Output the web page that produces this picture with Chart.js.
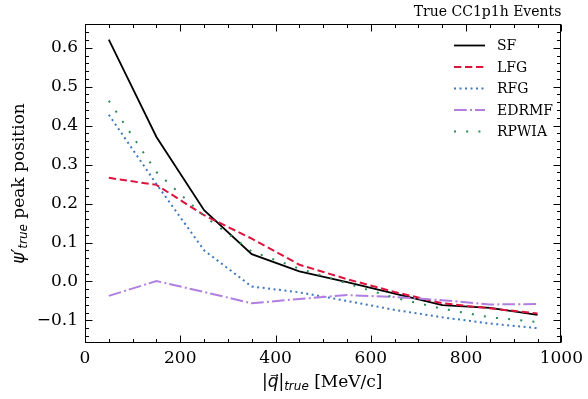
<!DOCTYPE html>
<html>
<head>
<meta charset="utf-8">
<script src="https://cdn.jsdelivr.net/npm/chart.js@4.4.1/dist/chart.umd.min.js"></script>
<style>
  html, body { margin: 0; padding: 0; background: #fff; }
  #wrap { width: 588px; height: 399px; position: relative; }
</style>
</head>
<body>
<div id="wrap"><canvas id="c"></canvas></div>
<script>
// ---- data ----
const qValues = [50, 150, 250, 350, 450, 550, 650, 750, 850, 950];
const seriesNames = ['SF', 'LFG', 'RFG', 'EDRMF', 'RPWIA'];
const sfValues    = [0.621, 0.371, 0.183, 0.070, 0.026, -0.002, -0.031, -0.061, -0.068, -0.086];
const lfgValues   = [0.266, 0.248, 0.170, 0.110, 0.043, 0.006, -0.027, -0.056, -0.069, -0.082];
const rfgValues   = [0.428, 0.250, 0.080, -0.013, -0.028, -0.050, -0.073, -0.092, -0.108, -0.120];
const edrmfValues = [-0.037, 0.001, -0.027, -0.056, -0.045, -0.035, -0.040, -0.048, -0.059, -0.058];
const rpwiaValues = [0.464, 0.281, 0.168, 0.077, 0.033, -0.005, -0.042, -0.070, -0.092, -0.104];
const xTickValues = [0, 200, 400, 600, 800, 1000];
const yTickValues = [-0.1, 0.0, 0.1, 0.2, 0.3, 0.4, 0.5, 0.6];
const titleText = 'True CC1p1h Events';

// ---- styles ----
const styles = [
  { color: '#000000', dash: [],                width: 1.8 },
  { color: '#DC143C', dash: [7.3, 3.7],        width: 2 },
  { color: '#3F79C0', dash: [2, 3.5],          width: 2 },
  { color: '#B07FE0', dash: [12.7, 3.3, 2, 3], width: 2 },
  { color: '#2E8B57', dash: [2, 10.2],         width: 2 }
];
const allValues = [sfValues, lfgValues, rfgValues, edrmfValues, rpwiaValues];

const datasets = allValues.map((vals, i) => ({
  label: seriesNames[i],
  data: qValues.map((x, j) => ({ x: x, y: vals[j] })),
  borderColor: styles[i].color,
  backgroundColor: styles[i].color,
  borderDash: styles[i].dash,
  borderWidth: styles[i].width,
  borderCapStyle: 'butt',
  pointRadius: 0,
  tension: 0,
  fill: false,
  order: 5 - i
}));

const SERIF = '"DejaVu Serif", serif';
const SANS = '"DejaVu Sans", sans-serif';

function fmtY(v) {
  const s = v.toFixed(1);
  return s.startsWith('-') ? '\u2212' + s.slice(1) : s;
}

// draw a sequence of text runs: [{t, font, dy}]
function drawRuns(ctx, runs, cx, cy) {
  let total = 0;
  runs.forEach(r => { ctx.font = r.font; r.w = ctx.measureText(r.t).width; total += r.w; });
  let x = cx - total / 2;
  ctx.textBaseline = 'middle';
  ctx.textAlign = 'left';
  runs.forEach(r => { ctx.font = r.font; ctx.fillText(r.t, x, cy + (r.dy || 0)); x += r.w; });
}

const decor = {
  id: 'decor',
  afterDraw(chart) {
    const ctx = chart.ctx;
    const a = chart.chartArea;
    const xs = chart.scales.x, ys = chart.scales.y;
    ctx.save();
    ctx.strokeStyle = '#000';
    ctx.fillStyle = '#000';
    // frame
    ctx.lineWidth = 1;
    ctx.strokeRect(Math.round(a.left) + 0.5, Math.round(a.top) + 0.5,
                   Math.round(a.right - a.left) - 1, Math.round(a.bottom - a.top) - 1);
    // ticks inward
    const L = Math.round(a.left) + 0.5, R = Math.round(a.right) - 0.5;
    const T = Math.round(a.top) + 0.5, B = Math.round(a.bottom) - 0.5;
    ctx.beginPath();
    for (let v = 0; v <= 1000; v += 50) {
      const px = Math.round(xs.getPixelForValue(v)) + 0.5;
      const len = (v % 200 === 0) ? 7 : 3.5;
      ctx.moveTo(px, B); ctx.lineTo(px, B - len);
      ctx.moveTo(px, T); ctx.lineTo(px, T + len);
    }
    for (let k = -7; k <= 33; k++) {
      const v = k * 0.02;
      if (v < ys.min || v > ys.max) continue;
      const py = Math.round(ys.getPixelForValue(v)) + 0.5;
      const len = (k % 5 === 0) ? 7 : 3.5;
      ctx.moveTo(L, py); ctx.lineTo(L + len, py);
      ctx.moveTo(R, py); ctx.lineTo(R - len, py);
    }
    ctx.stroke();

    // title
    ctx.font = '14px ' + SERIF;
    ctx.textAlign = 'right';
    ctx.textBaseline = 'alphabetic';
    ctx.fillText(titleText, a.right, 16);

    // legend
    const lx0 = 454, lx1 = 485, tx = 497;
    const rowY = [45, 66.5, 88, 109.5, 131];
    chart.data.datasets.forEach((ds, i) => {
      const y = rowY[i] + 0.5;
      ctx.save();
      ctx.strokeStyle = ds.borderColor;
      ctx.lineWidth = ds.borderWidth;
      ctx.setLineDash(ds.borderDash);
      ctx.beginPath();
      ctx.moveTo(lx0, y); ctx.lineTo(lx1, y);
      ctx.stroke();
      ctx.restore();
      ctx.font = '14px ' + SERIF;
      ctx.textAlign = 'left';
      ctx.textBaseline = 'middle';
      ctx.fillText(ds.label, tx, y + 1);
    });

    // x axis title
    drawRuns(ctx, [
      { t: '|', font: '17px ' + SANS },
      { t: 'q\u20D7', font: 'italic 17px ' + SANS },
      { t: '|', font: '17px ' + SANS },
      { t: 'true', font: 'italic 12px ' + SANS, dy: 4 },
      { t: ' [MeV/c]', font: '17px ' + SERIF }
    ], (a.left + a.right) / 2 - 1, 383);

    // y axis title
    ctx.save();
    ctx.translate(20, (a.top + a.bottom) / 2);
    ctx.rotate(-Math.PI / 2);
    drawRuns(ctx, [
      { t: '\u03C8\u2032', font: 'italic 17px ' + SANS },
      { t: 'true', font: 'italic 12px ' + SANS, dy: 4 },
      { t: ' peak position', font: '17px ' + SERIF }
    ], 0, 0);
    ctx.restore();
    ctx.restore();
  }
};

new Chart(document.getElementById('c'), {
  type: 'line',
  data: { datasets },
  options: {
    responsive: true,
    maintainAspectRatio: false,
    animation: false,
    layout: { padding: { left: 0, top: 24, right: 23, bottom: 0 } },
    plugins: { legend: { display: false }, tooltip: { enabled: false }, title: { display: false } },
    scales: {
      x: {
        type: 'linear',
        min: 0, max: 1000,
        grid: { display: false, drawTicks: false },
        border: { display: false },
        afterBuildTicks: s => { s.ticks = xTickValues.map(v => ({ value: v })); },
        afterFit: s => { s.height = 56; },
        ticks: {
          color: '#000', padding: 5, maxRotation: 0, autoSkip: false,
          font: { family: SERIF, size: 17 },
          callback: v => String(v)
        }
      },
      y: {
        type: 'linear',
        min: -0.158, max: 0.661,
        grid: { display: false, drawTicks: false },
        border: { display: false },
        afterBuildTicks: s => { s.ticks = yTickValues.map(v => ({ value: v })); },
        afterFit: s => { s.width = 85; },
        ticks: {
          color: '#000', padding: 7, autoSkip: false,
          font: { family: SERIF, size: 17 },
          callback: v => fmtY(v)
        }
      }
    }
  },
  plugins: [decor]
});
</script>
</body>
</html>
